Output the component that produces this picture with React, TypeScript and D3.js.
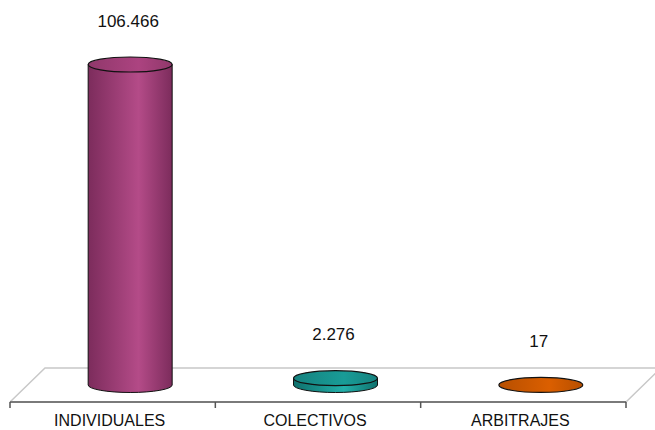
import React from "react";
import * as d3 from "d3";

const categories = ["INDIVIDUALES", "COLECTIVOS", "ARBITRAJES"];
const values = [106466, 2276, 17];
const valueLabels = ["106.466", "2.276", "17"];
const colors = [
  { edge: "#7c2c5c", mid: "#b44b88", top: "#a03e77" },
  { edge: "#0e706c", mid: "#23b0aa", top: "#17918d" },
  { edge: "#a84500", mid: "#d2600a", top: "#cc5800" },
];

const W = 655;
const H = 430;

export default function App() {
  const x = d3.scaleBand<string>().domain(categories).range([10, 626]).padding(0);
  const depthX = 35;
  const depthY = 34;
  const frontY = 402;
  const baseY = frontY - depthY / 2;
  const y = d3.scaleLinear().domain([0, 106466]).range([baseY, 64.5]);
  const rx = 42;
  const ry = 7.5;
  const ticks = [...categories.map((c) => x(c)!), x.range()[1]];
  const font = "'Liberation Sans', Arial, sans-serif";

  return (
    <svg width={W} height={H} style={{ position: "absolute", left: 0, top: 0 }}>
      <defs>
        {colors.map((c, i) => (
          <linearGradient key={i} id={`g${i}`} x1="0" x2="1" y1="0" y2="0">
            <stop offset="0" stopColor={c.edge} />
            <stop offset="0.6" stopColor={c.mid} />
            <stop offset="1" stopColor={c.edge} />
          </linearGradient>
        ))}
        {colors.map((c, i) => (
          <linearGradient key={i} id={`t${i}`} x1="0" x2="1" y1="0" y2="0">
            <stop offset="0" stopColor={d3.color(c.top)!.darker(0.3).toString()} />
            <stop offset="0.6" stopColor={d3.color(c.top)!.brighter(0.2).toString()} />
            <stop offset="1" stopColor={d3.color(c.top)!.darker(0.3).toString()} />
          </linearGradient>
        ))}
      </defs>
      <rect width={W} height={H} fill="#fff" />
      <path
        d={`M${x.range()[0]},${frontY} L${x.range()[0] + depthX},${frontY - depthY} L${x.range()[1] + depthX},${frontY - depthY} L${x.range()[1]},${frontY}`}
        fill="none"
        stroke="#c8c8c8"
        strokeWidth={1.5}
      />
      <line x1={x.range()[0]} x2={x.range()[1]} y1={frontY} y2={frontY} stroke="#7a7a7a" strokeWidth={2} />
      {ticks.map((t, i) => (
        <line key={i} x1={t} x2={t} y1={frontY} y2={frontY + 6} stroke="#555" strokeWidth={1.5} />
      ))}
      {categories.map((c, i) => {
        const cx = x(c)! + x.bandwidth() / 2 + depthX / 2;
        const top = y(values[i]);
        const h = baseY - top;
        const body = `M${cx - rx},${top} L${cx - rx},${baseY} A${rx},${ry} 0 0 0 ${cx + rx},${baseY} L${cx + rx},${top} Z`;
        return (
          <g key={c}>
            {h > 0.5 && <path d={body} fill={`url(#g${i})`} stroke="#111" strokeWidth={1} />}
            <ellipse cx={cx} cy={top} rx={rx} ry={ry} fill={`url(#t${i})`} stroke="#111" strokeWidth={1.2} />
            <text
              x={cx - 2}
              y={top - 38}
              textAnchor="middle"
              fontFamily={font}
              fontSize={17}
              fill="#111"
            >
              {valueLabels[i]}
            </text>
          </g>
        );
      })}
      {categories.map((c) => (
        <text
          key={c}
          x={x(c)! + x.bandwidth() / 2 - 3}
          y={426}
          textAnchor="middle"
          fontFamily={font}
          fontSize={16}
          fill="#111"
        >
          {c}
        </text>
      ))}
    </svg>
  );
}
